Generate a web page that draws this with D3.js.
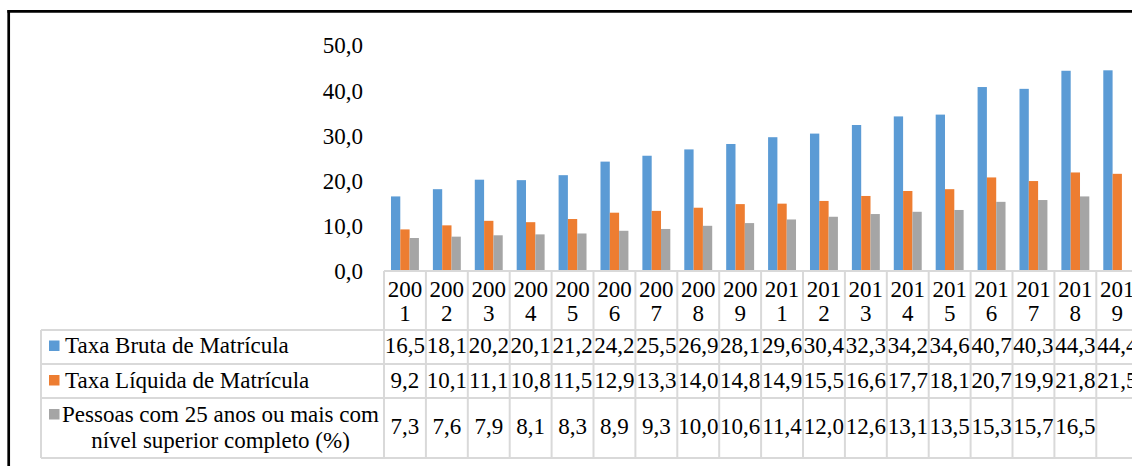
<!DOCTYPE html>
<html>
<head>
<meta charset="utf-8">
<script src="https://cdn.jsdelivr.net/npm/d3@7"></script>
<style>
  html, body { margin: 0; padding: 0; background: #fff; }
  svg { display: block; }
</style>
</head>
<body>
<svg id="chart" width="1132" height="466"></svg>
<script>
// ---- data ----
const years = ["2001","2002","2003","2004","2005","2006","2007","2008","2009",
               "2011","2012","2013","2014","2015","2016","2017","2018","2019"];
const taxaBruta   = [16.5,18.1,20.2,20.1,21.2,24.2,25.5,26.9,28.1,29.6,30.4,32.3,34.2,34.6,40.7,40.3,44.3,44.4];
const taxaLiquida = [9.2,10.1,11.1,10.8,11.5,12.9,13.3,14.0,14.8,14.9,15.5,16.6,17.7,18.1,20.7,19.9,21.8,21.5];
const pessoas25   = [7.3,7.6,7.9,8.1,8.3,8.9,9.3,10.0,10.6,11.4,12.0,12.6,13.1,13.5,15.3,15.7,16.5,null];
const seriesNames = ["Taxa Bruta de Matrícula", "Taxa Líquida de Matrícula",
                     "Pessoas com 25 anos ou mais com nível superior completo (%)"];
const seriesLabelLines = [["Taxa Bruta de Matrícula"], ["Taxa Líquida de Matrícula"],
                          ["Pessoas com 25 anos ou mais com", "nível superior completo (%)"]];
const seriesColors = ["#5B9BD5", "#ED7D31", "#A5A5A5"];
const yTicks = [0, 10, 20, 30, 40, 50];

const seriesValues = [taxaBruta, taxaLiquida, pessoas25];

// ---- layout ----
const svg = d3.select("#chart");
const FS = 23;
const FONT = "'Liberation Serif', Tinos, 'Times New Roman', Times, serif";
const plotLeft = 384, colW = 41.9;
const plotRight = plotLeft + colW * years.length;
const yZero = 271, yTop = 45;
const tableLeft = 41;
const rowLines = [330, 364, 398, 458];
const gridColor = "#d9d9d9";

const x = d3.scaleBand().domain(years).range([plotLeft, plotRight]).paddingInner(0).paddingOuter(0);
const x1 = d3.scaleBand().domain(d3.range(seriesValues.length)).range([0, x.bandwidth()]).paddingInner(0).paddingOuter(0.75);
const y = d3.scaleLinear().domain([0, 50]).range([yZero, yTop]);
const fmt = v => d3.format(".1f")(v).replace(".", ",");

function txt(g, tx, ty, s, anchor) {
  return g.append("text").attr("x", tx).attr("y", ty)
    .style("font-family", FONT).style("font-size", FS + "px").attr("fill", "#000")
    .attr("text-anchor", anchor || "start").text(s);
}

// frame
svg.append("line").attr("x1", 8.7).attr("x2", 8.7).attr("y1", 10).attr("y2", 466)
  .attr("stroke", "#000").attr("stroke-width", 2.7);
svg.append("line").attr("x1", 7.4).attr("x2", 1132).attr("y1", 11.3).attr("y2", 11.3)
  .attr("stroke", "#000").attr("stroke-width", 2.7);

// y axis
const yAxis = svg.append("g").attr("transform", `translate(${plotLeft},0)`)
  .call(d3.axisLeft(y).tickValues(yTicks).tickSize(0).tickPadding(21).tickFormat(fmt));
yAxis.select(".domain").remove();
yAxis.selectAll("text").style("font-family", FONT).style("font-size", FS + "px")
  .attr("fill", "#000").attr("dy", "0.34em");

// bars
seriesValues.forEach((vals, si) => {
  svg.append("g").selectAll("rect")
    .data(vals.map((v, i) => ({ v, year: years[i] })).filter(d => d.v !== null))
    .join("rect")
    .attr("x", d => x(d.year) + x1(si))
    .attr("width", x1.bandwidth())
    .attr("y", d => y(d.v))
    .attr("height", d => y(0) - y(d.v))
    .attr("fill", seriesColors[si]);
});

// table grid
const grid = svg.append("g").attr("stroke", gridColor).attr("stroke-width", 2);
grid.append("line").attr("x1", plotLeft).attr("x2", plotRight).attr("y1", yZero).attr("y2", yZero);
rowLines.forEach(ry => grid.append("line").attr("x1", tableLeft).attr("x2", plotRight).attr("y1", ry).attr("y2", ry));
grid.append("line").attr("x1", tableLeft).attr("x2", tableLeft).attr("y1", rowLines[0]).attr("y2", rowLines[3]);
years.concat(["end"]).forEach(yr => {
  const gx = yr === "end" ? plotRight : x(yr);
  grid.append("line").attr("x1", gx).attr("x2", gx).attr("y1", yZero).attr("y2", rowLines[3]);
});

// year header (wrapped into two lines)
const hdr = svg.append("g");
years.forEach(yr => {
  const cx = x(yr) + x.bandwidth() / 2;
  txt(hdr, cx, 296.5, yr.slice(0, 3), "middle");
  txt(hdr, cx, 320.8, yr.slice(3), "middle");
});

// value rows
const rowBaselines = [353, 387.5, 434];
seriesValues.forEach((vals, si) => {
  const g = svg.append("g");
  vals.forEach((v, i) => {
    if (v === null) return;
    txt(g, x(years[i]) + x.bandwidth() / 2, rowBaselines[si], fmt(v), "middle");
  });
});

// legend column
const legendBase = [[353], [387.5], [421.5, 448]];
seriesLabelLines.forEach((lines, si) => {
  const g = svg.append("g");
  g.append("rect").attr("x", 49).attr("y", legendBase[si][0] - 12.5).attr("width", 10.5).attr("height", 10.5)
    .attr("fill", seriesColors[si]);
  if (lines.length === 1) {
    txt(g, 65, legendBase[si][0], lines[0]);
  } else {
    lines.forEach((ln, li) => txt(g, 220.5, legendBase[si][li], ln, "middle"));
  }
});
</script>
</body>
</html>
